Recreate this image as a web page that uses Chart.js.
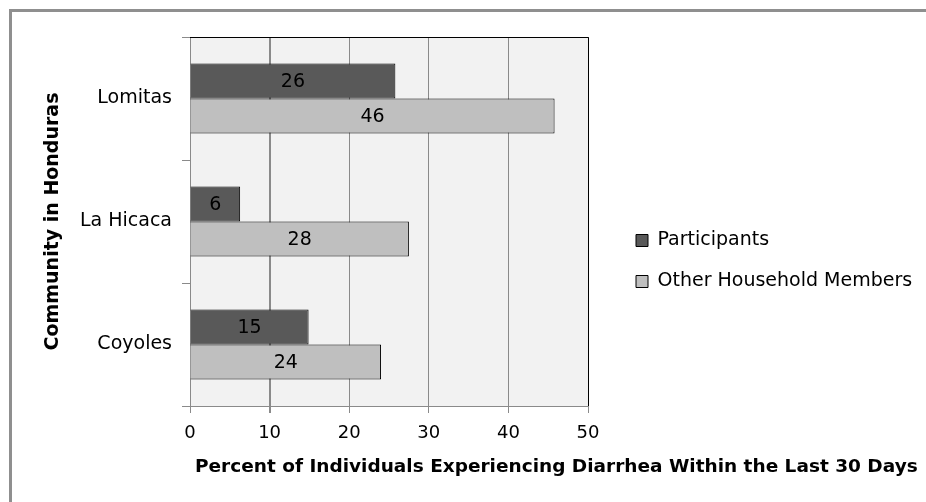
<!DOCTYPE html>
<html><head><meta charset="utf-8">
<script src="https://cdn.jsdelivr.net/npm/chart.js@4.4.0/dist/chart.umd.min.js"></script>
<style>
html,body{margin:0;padding:0;background:#fff;overflow:hidden}
#wrap{position:relative;width:926px;height:502px;overflow:hidden}
#frame{position:absolute;left:9px;top:9px;width:940px;height:520px;border-top:3px solid #8f8f8f;border-left:3px solid #8f8f8f}
canvas{position:absolute;left:0;top:0}
</style></head><body>
<div id="wrap"><div id="frame"></div><canvas id="c" width="926" height="502"></canvas></div>
<script>
const categories = ['Lomitas', 'La Hicaca', 'Coyoles'];
const participants = [25.8, 6.3, 14.9];
const otherMembers = [45.8, 27.5, 24.0];
const seriesNames = ['Participants', 'Other Household Members'];
const xTicks = [0, 10, 20, 30, 40, 50];
const xTitle = 'Percent of Individuals Experiencing Diarrhea Within the Last 30 Days';
const yTitle = 'Community in Honduras';

const FONT = 'DejaVu Sans';
const GRID = '#8a8a8a';

const plotDecor = {
  id: 'plotDecor',
  beforeDraw(chart) {
    const {ctx, chartArea: a} = chart;
    ctx.save();
    ctx.fillStyle = '#f2f2f2';
    ctx.fillRect(a.left, a.top, a.right - a.left, a.bottom - a.top);
    ctx.restore();
  },
  afterDraw(chart) {
    const {ctx, chartArea: a} = chart;
    ctx.save();
    ctx.strokeStyle = '#000';
    ctx.lineWidth = 1;
    ctx.beginPath();
    ctx.moveTo(a.left, a.top + 0.5);
    ctx.lineTo(a.right + 0.5, a.top + 0.5);
    ctx.lineTo(a.right + 0.5, a.bottom);
    ctx.stroke();
    // value labels
    ctx.fillStyle = '#000';
    ctx.font = '19px "' + FONT + '"';
    ctx.textAlign = 'center';
    ctx.textBaseline = 'middle';
    chart.data.datasets.forEach((ds, i) => {
      const meta = chart.getDatasetMeta(i);
      meta.data.forEach((bar, j) => {
        ctx.fillText(String(Math.round(ds.data[j])), (bar.x + bar.base) / 2, bar.y + 1);
      });
    });
    // x-axis title (extends past the plot area, so drawn without width limit)
    ctx.font = 'bold 18.5px "' + FONT + '"';
    ctx.textAlign = 'left';
    ctx.textBaseline = 'middle';
    ctx.fillText(xTitle, a.left + 5, 467);
    ctx.restore();
  }
};

const legendPlacer = {
  id: 'legendPlacer',
  afterLayout(chart) {
    const lg = chart.legend;
    const pad = lg.options.labels.padding;
    lg.left = 636 - pad;
    lg.top = 231 - pad;
    lg.right = lg.left + lg.width;
    lg.bottom = lg.top + lg.height;
  }
};

new Chart(document.getElementById('c'), {
  type: 'bar',
  data: {
    labels: categories,
    datasets: [
      {label: seriesNames[0], data: participants, backgroundColor: '#595959', borderColor: '#000', borderWidth: 1},
      {label: seriesNames[1], data: otherMembers, backgroundColor: '#bfbfbf', borderColor: '#000', borderWidth: 1}
    ]
  },
  options: {
    indexAxis: 'y',
    responsive: false,
    devicePixelRatio: 1,
    animation: false,
    datasets: {bar: {categoryPercentage: 0.57, barPercentage: 1.0}},
    layout: {padding: {left: 10, top: 37, right: 338, bottom: 0}},
    scales: {
      x: {
        min: 0, max: 50,
        afterBuildTicks(s) { s.ticks = xTicks.map(v => ({value: v})); },
        afterFit(s) { s.height = 96; },
        grid: {color: GRID, tickColor: GRID, tickLength: 7, lineWidth: c => (c.tick && c.tick.value === 10 ? 2 : 1)},
        border: {color: GRID, width: 1},
        ticks: {color: '#000', font: {family: FONT, size: 18}, padding: 10},
        title: {display: false}
      },
      y: {
        afterFit(s) { s.width = 180; },
        grid: {offset: true, drawOnChartArea: false, color: GRID, tickColor: GRID, tickLength: 8},
        border: {color: GRID, width: 1},
        ticks: {color: '#000', font: {family: FONT, size: 19}, padding: 10},
        title: {display: true, text: yTitle, color: '#000',
                font: {family: FONT, size: 19, weight: 'bold'}, padding: {top: 32, bottom: 0}}
      }
    },
    plugins: {
      legend: {
        position: 'chartArea', align: 'start',
        labels: {boxWidth: 12, boxHeight: 12, padding: 22, color: '#000', font: {family: FONT, size: 19}}
      },
      tooltip: {enabled: false}
    }
  },
  plugins: [plotDecor, legendPlacer]
});
</script>
</body></html>
